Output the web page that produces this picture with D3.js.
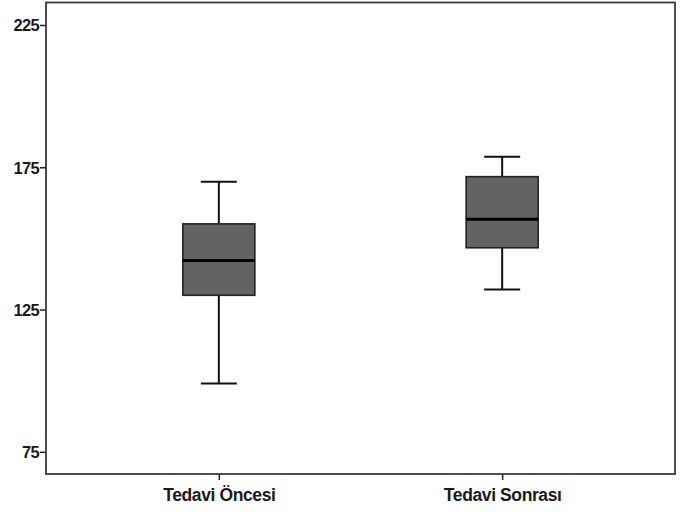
<!DOCTYPE html>
<html>
<head>
<meta charset="utf-8">
<script src="https://cdn.jsdelivr.net/npm/d3@7"></script>
<style>
  body { margin: 0; background: #fff; }
  text { font-family: "Liberation Sans", Arial, sans-serif; font-weight: bold; fill: #1a1a1a; }
</style>
</head>
<body>
<div id="chart"></div>
<script>
// data
var groups = ["Tedavi Öncesi", "Tedavi Sonrası"];
var mins = [99, 132];
var q1s = [130, 146.7];
var medians = [142.2, 156.7];
var q3s = [155.1, 171.7];
var maxs = [169.9, 178.7];
var yTicks = [75, 125, 175, 225];

var margin = { top: 2.5, right: 7, bottom: 38, left: 46 },
    width = 682 - margin.left - margin.right,
    height = 512 - margin.top - margin.bottom;

var svg = d3.select("#chart")
    .append("svg")
    .attr("width", 682)
    .attr("height", 512)
    .append("g")
    .attr("transform", "translate(" + margin.left + "," + margin.top + ")");

var data = groups.map(function (g, i) {
    return { group: g, min: mins[i], q1: q1s[i], median: medians[i], q3: q3s[i], max: maxs[i] };
});

var x = d3.scalePoint().domain(groups).range([0, width]).padding(0.61);
var y = d3.scaleLinear().domain([67.2, 232.9]).range([height, 0]);

// y axis
var yAxis = svg.append("g")
    .call(d3.axisLeft(y).tickValues(yTicks).tickSize(6).tickPadding(1));
yAxis.select(".domain").remove();
yAxis.selectAll("line").attr("stroke", "#222").attr("stroke-width", 1.5);
yAxis.selectAll("text").style("font-size", "16.5px").style("letter-spacing", "-0.7px").attr("dy", "0.36em");

// x axis
var xAxis = svg.append("g")
    .attr("transform", "translate(0," + height + ")")
    .call(d3.axisBottom(x).tickSize(6).tickPadding(9));
xAxis.select(".domain").remove();
xAxis.selectAll("line").attr("stroke", "#222").attr("stroke-width", 1.5);
xAxis.selectAll("text").style("font-size", "17.5px").style("letter-spacing", "-0.4px");

// frame
svg.append("rect")
    .attr("width", width)
    .attr("height", height)
    .attr("fill", "none")
    .attr("stroke", "#3a3a3a")
    .attr("stroke-width", 1.8);

var boxW = 72, capW = 36;

var boxes = svg.selectAll(".box")
    .data(data)
    .enter()
    .append("g")
    .attr("transform", function (d) { return "translate(" + x(d.group) + ",0)"; });

// whiskers
boxes.append("line")
    .attr("x1", 0).attr("x2", 0)
    .attr("y1", function (d) { return y(d.max); })
    .attr("y2", function (d) { return y(d.min); })
    .attr("stroke", "#111").attr("stroke-width", 2);

boxes.append("line")
    .attr("x1", -capW / 2).attr("x2", capW / 2)
    .attr("y1", function (d) { return y(d.max); })
    .attr("y2", function (d) { return y(d.max); })
    .attr("stroke", "#111").attr("stroke-width", 2);

boxes.append("line")
    .attr("x1", -capW / 2).attr("x2", capW / 2)
    .attr("y1", function (d) { return y(d.min); })
    .attr("y2", function (d) { return y(d.min); })
    .attr("stroke", "#111").attr("stroke-width", 2);

// boxes
boxes.append("rect")
    .attr("x", -boxW / 2)
    .attr("width", boxW)
    .attr("y", function (d) { return y(d.q3); })
    .attr("height", function (d) { return y(d.q1) - y(d.q3); })
    .attr("fill", "#636363")
    .attr("stroke", "#222")
    .attr("stroke-width", 1.6);

// medians
boxes.append("line")
    .attr("x1", -boxW / 2).attr("x2", boxW / 2)
    .attr("y1", function (d) { return y(d.median); })
    .attr("y2", function (d) { return y(d.median); })
    .attr("stroke", "#000").attr("stroke-width", 3);
</script>
</body>
</html>
